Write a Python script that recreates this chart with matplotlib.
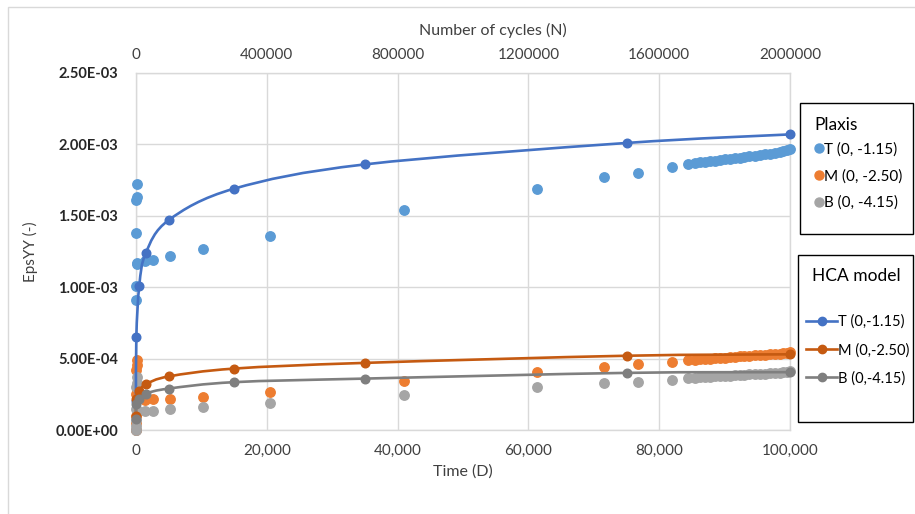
import matplotlib
matplotlib.use("Agg")
import matplotlib.pyplot as plt
from matplotlib.path import Path
from matplotlib.patches import PathPatch, Rectangle
from matplotlib.lines import Line2D
from matplotlib.ticker import FuncFormatter

plt.rcParams['font.family'] = ['Lato', 'DejaVu Sans']

# ---------------- data (strain values in units of 1e-3) ----------------
# Plaxis results vs time (D)
plaxis_time = [0, 10, 20, 40, 60, 80, 100, 150, 200, 1300, 2600, 5200, 10200,
               20500, 41000, 61300, 71500, 76800, 82000,
               84400, 85500, 86300, 87000, 87800, 88500, 89300, 90100, 90800,
               91600, 92300, 93000, 93800, 94600, 95400, 96200, 96900, 97700,
               98500, 99000, 99500, 100000]
plaxis_T = [0.00, 0.91, 1.01, 1.38, 1.61, 1.63, 1.72, 1.16, 1.17, 1.18, 1.19,
            1.22, 1.27, 1.36, 1.54, 1.69, 1.77, 1.80, 1.84,
            1.865, 1.870, 1.874, 1.878, 1.882, 1.886, 1.890, 1.895, 1.899,
            1.903, 1.907, 1.912, 1.916, 1.920, 1.925, 1.930, 1.935, 1.940,
            1.947, 1.952, 1.958, 1.965]
plaxis_M = [0.00, 0.05, 0.10, 0.25, 0.42, 0.455, 0.49, 0.21, 0.22, 0.21, 0.215,
            0.215, 0.23, 0.265, 0.34, 0.405, 0.44, 0.46, 0.475,
            0.490, 0.492, 0.495, 0.497, 0.500, 0.502, 0.505, 0.507, 0.510,
            0.512, 0.515, 0.517, 0.520, 0.522, 0.525, 0.527, 0.530, 0.532,
            0.535, 0.538, 0.541, 0.545]
plaxis_B = [0.00, 0.03, 0.07, 0.15, 0.30, 0.33, 0.37, 0.13, 0.14, 0.13, 0.135,
            0.145, 0.16, 0.19, 0.245, 0.30, 0.33, 0.335, 0.35,
            0.365, 0.367, 0.369, 0.371, 0.373, 0.375, 0.377, 0.379, 0.381,
            0.383, 0.385, 0.387, 0.389, 0.391, 0.393, 0.395, 0.397, 0.399,
            0.401, 0.404, 0.407, 0.410]

# HCA model vs number of cycles (N)
hca_cycles = [0, 1000, 10000, 30000, 100000, 300000, 700000, 1500000, 2000000]
hca_T = [0.20, 0.65, 1.01, 1.24, 1.47, 1.69, 1.86, 2.01, 2.07]
hca_M = [0.10, 0.22, 0.27, 0.32, 0.375, 0.43, 0.47, 0.52, 0.53]
hca_B = [0.08, 0.18, 0.22, 0.255, 0.29, 0.335, 0.36, 0.40, 0.405]

x_ticks = [0, 20000, 40000, 60000, 80000, 100000]
n_ticks = [0, 400000, 800000, 1200000, 1600000, 2000000]
y_ticks = [0, 0.5, 1.0, 1.5, 2.0, 2.5]

plaxis_labels = ['T (0, -1.15)', 'M (0, -2.50)', 'B (0, -4.15)']
hca_labels = ['T (0,-1.15)', 'M (0,-2.50)', 'B (0,-4.15)']
plaxis_colors = ['#5B9BD5', '#ED7D31', '#A5A5A5']
hca_colors = ['#4472C4', '#C55A11', '#7F7F7F']


def smooth_path(x, y):
    """Excel-like smoothed line: Catmull-Rom segments as cubic Beziers."""
    pts = list(zip(x, y))
    n = len(pts)
    tang = []
    for i in range(n):
        a = pts[max(i - 1, 0)]
        b = pts[min(i + 1, n - 1)]
        tang.append(((b[0] - a[0]) / 6.0, (b[1] - a[1]) / 6.0))
    verts = [pts[0]]
    codes = [Path.MOVETO]
    for i in range(n - 1):
        p0, p3 = pts[i], pts[i + 1]
        c1 = (p0[0] + tang[i][0], p0[1] + tang[i][1])
        c2 = (p3[0] - tang[i + 1][0], p3[1] - tang[i + 1][1])
        verts += [c1, c2, p3]
        codes += [Path.CURVE4] * 3
    return Path(verts, codes)


fig = plt.figure(figsize=(9.15, 5.14), dpi=100)
W, H = 915.0, 514.0
ax = fig.add_axes([136 / W, 84 / H, 654 / W, 357 / H])

grid_c = '#D9D9D9'
ax.set_xlim(0, 100000)
ax.set_ylim(0, 2.5)
ax.set_xticks(x_ticks)
ax.set_yticks(y_ticks)
ax.xaxis.set_major_formatter(FuncFormatter(lambda v, p: f"{int(v):,}"))
ax.yaxis.set_major_formatter(FuncFormatter(lambda v, p: f"{v * 1e-3:.2E}"))
ax.grid(True, color=grid_c, lw=1.0)
ax.set_axisbelow(True)
for s in ax.spines.values():
    s.set_color(grid_c)
    s.set_linewidth(1.0)
ax.tick_params(axis='x', length=0, pad=10, labelsize=11, labelcolor='#404040')
ax.tick_params(axis='y', length=0, pad=13, labelsize=10.5, labelcolor='#262626')
for lab in ax.get_yticklabels():
    lab.set_fontweight('bold')
ax.set_xlabel('Time (D)', fontsize=11.5, color='#404040', labelpad=5)
ax.set_ylabel('EpsYY (-)', fontsize=11, color='#404040')
ax.yaxis.set_label_coords(-0.15, 0.5)

ax2 = ax.twiny()
ax2.set_xlim(0, 2000000)
ax2.set_xticks(n_ticks)
ax2.xaxis.set_major_formatter(FuncFormatter(lambda v, p: f"{int(v)}"))
ax2.tick_params(axis='x', length=0, pad=8, labelsize=11, labelcolor='#404040')
for s in ax2.spines.values():
    s.set_visible(False)
ax2.set_xlabel('Number of cycles (N)', fontsize=11.5, color='#404040')
ax2.xaxis.set_label_coords((493 - 136) / 654, 1 + (73 - 35) / 357)

# Plaxis scatter
for ys, c in zip([plaxis_T, plaxis_M, plaxis_B], plaxis_colors):
    ax.plot(plaxis_time, ys, 'o', ls='none', color=c, ms=6.8, mec=c,
            clip_on=False, zorder=3)

# HCA smooth lines with markers
for ys, c in zip([hca_T, hca_M, hca_B], hca_colors):
    ax2.add_patch(PathPatch(smooth_path(hca_cycles, ys), fill=False,
                            ec=c, lw=1.9, zorder=4, clip_on=False))
    ax2.plot(hca_cycles, ys, 'o', ls='none', color=c, ms=6.2, mec=c,
             clip_on=False, zorder=5)

# Legends
ph = [Line2D([], [], marker='o', ls='none', color=c, ms=6.5) for c in plaxis_colors]
leg1 = fig.legend(ph, plaxis_labels, loc='upper left',
                  bbox_to_anchor=(804 / W, 1 - 106 / H), frameon=False,
                  title='Plaxis', title_fontsize=12.5, fontsize=11,
                  alignment='left', handlelength=0.5, handletextpad=0.1,
                  labelspacing=0.8, borderpad=0.2)
leg1._legend_box.sep = 7
hh = [Line2D([], [], marker='o', ls='-', color=c, ms=6, lw=1.9) for c in hca_colors]
leg2 = fig.legend(hh, hca_labels, loc='upper left',
                  bbox_to_anchor=(796 / W, 1 - 258 / H), frameon=False,
                  title='HCA model', title_fontsize=12.5, fontsize=10.5,
                  alignment='left', handlelength=2.1, handletextpad=0.1,
                  labelspacing=0.95, borderpad=0.2)
leg2._legend_box.sep = 22
leg2.get_title().set_position((6, 0))

fig.add_artist(Rectangle((800 / W, 1 - 234 / H), 113 / W, 131 / H,
                         transform=fig.transFigure, fill=False, ec='black', lw=1.0))
fig.add_artist(Rectangle((798 / W, 1 - 422 / H), 115 / W, 167 / H,
                         transform=fig.transFigure, fill=False, ec='black', lw=1.0))

# outer chart border
fig.add_artist(Rectangle((8 / W, -0.05), 1.0, 1.05 - 7 / H,
                         transform=fig.transFigure, fill=False, ec=grid_c, lw=1.0))

fig.savefig('out.png', dpi=100)
